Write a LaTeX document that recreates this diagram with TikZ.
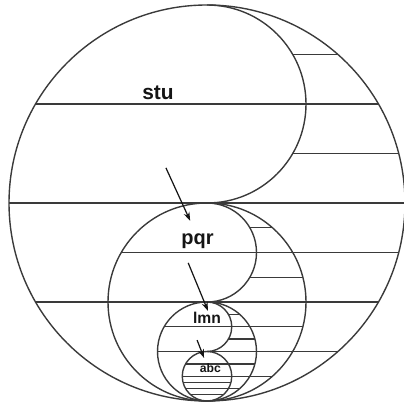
\documentclass[tikz,border=0pt]{standalone}
\usepackage{fontspec}
\setsansfont{Liberation Sans}
\usetikzlibrary{arrows.meta}
\definecolor{pen}{HTML}{3A3A3A}
\definecolor{ink}{HTML}{151515}

\begin{document}
\begin{tikzpicture}[pen,line width=0.8pt,every node/.style={font=\sffamily\bfseries,text=ink,inner sep=0pt},
  pointer/.style={ink,line width=0.7pt,-{Stealth[length=5pt,width=3.5pt]}}]
 \useasboundingbox (-4.182,-4.020) rectangle (3.980,4.101);
 \draw (0,0) circle (4);
 \draw (0,4) arc (90:-90:2);
 \draw (0,-2) circle (2);
 \draw (0,0) arc (90:-90:1);
 \draw (0,-3) circle (1);
 \draw (0,-2) arc (90:-90:.5);
 \draw (0,-3.5) circle (.5);
 \foreach \y/\xa/\xb in {3/1.7321/2.6458,1/1.7321/3.8730,-0.5/0.8660/1.3229,
   -1.5/0.8660/1.9365,-2.25/0.4330/0.6614,-2.75/0.4330/0.9682}
   {\draw (\xa,\y)--(\xb,\y);}
 \foreach \y/\xa/\xb in {2/-3.4641/3.4641,0/-4/4,-1/-1.7321/3.8730,-2/-3.4641/3.4641,
   -2.5/-0.8660/1.9365,-3/-1/2.6458,-3.25/-0.4330/0.9682,-3.5/-0.5/1.3229,
   -3.625/-0.4841/0.4841,-3.75/-0.4330/0.6614,-3.875/-0.3307/0.3307}
   {\draw (\xa,\y)--(\xb,\y);}
 \node[anchor=base,font=\fontsize{12}{12}\sffamily\bfseries] (stu) at (-0.99,2.10) {stu};
 \node[anchor=base,font=\fontsize{11.5}{12}\sffamily\bfseries] (pqr) at (-0.19,-0.83) {pqr};
 \node[anchor=base,font=\fontsize{9}{10}\sffamily\bfseries] (lmn) at (0,-2.44) {lmn};
 \node[anchor=base,font=\fontsize{7}{8}\sffamily\bfseries] (abc) at (0.07,-3.43) {abc};
 \coordinate (a1) at (-0.83,0.71);\coordinate (b1) at (-0.34,-0.36);
 \coordinate (a2) at (-0.38,-1.21);\coordinate (b2) at (0.02,-2.18);
 \coordinate (a3) at (-0.20,-2.77);\coordinate (b3) at (-0.06,-3.13);
 \draw[pointer] (a1)--(b1);
 \draw[pointer] (a2)--(b2);
 \draw[pointer] (a3)--(b3);
\end{tikzpicture}
\end{document}
